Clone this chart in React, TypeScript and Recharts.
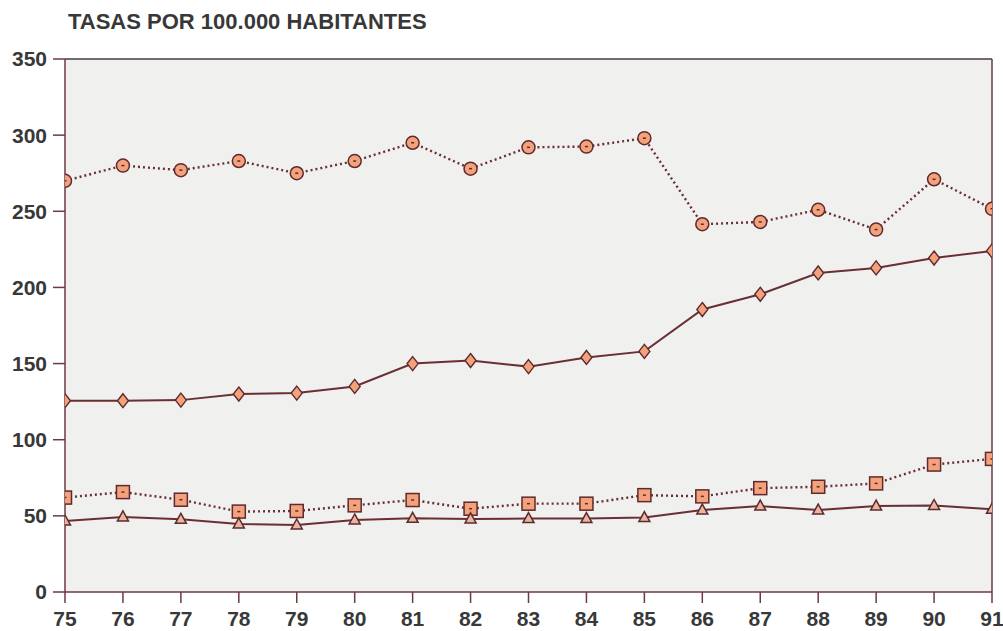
import React from 'react';
import { LineChart, Line, XAxis, YAxis, CartesianGrid, ReferenceLine } from 'recharts';

const years = [75, 76, 77, 78, 79, 80, 81, 82, 83, 84, 85, 86, 87, 88, 89, 90, 91];
const serieCirculo = [270, 280, 277, 283, 275, 283, 295, 278, 292, 292.5, 298, 241.5, 243, 251, 238, 271, 251.6];
const serieRombo = [125.6, 125.6, 126, 130, 130.6, 135, 150, 152, 148, 154, 158, 185.5, 195.5, 209.5, 212.8, 219.3, 224];
const serieCuadrado = [62, 65.6, 60.6, 52.8, 53.2, 56.9, 60.4, 54.7, 58, 58, 63.6, 62.8, 68.2, 69.1, 71.3, 83.7, 87.4];
const serieTriangulo = [46.6, 49.3, 47.7, 44.7, 44, 47.3, 48.4, 48, 48.2, 48.2, 48.9, 53.8, 56.4, 53.8, 56.4, 56.8, 54.3];
const yTicks = [0, 50, 100, 150, 200, 250, 300, 350];
const title = 'TASAS POR 100.000 HABITANTES';

const data = years.map((y, i) => ({
  year: y,
  a: serieCirculo[i],
  b: serieRombo[i],
  c: serieCuadrado[i],
  d: serieTriangulo[i],
}));

const AXIS = '#6e3a40';
const LINE = '#6a2f34';
const FILL = '#f4a27c';
const EDGE = '#5e2a2e';
const TXT = '#383838';

const CircleDot = (p: any) => (
  <g key={p.key ?? `c${p.index}`}>
    <circle cx={p.cx} cy={p.cy} r={6.5} fill={FILL} stroke={EDGE} strokeWidth={1.5} />
    <line x1={p.cx - 1.5} y1={p.cy} x2={p.cx + 1.5} y2={p.cy} stroke={EDGE} strokeWidth={1.5} />
  </g>
);
const SquareDot = (p: any) => (
  <g key={p.key ?? `s${p.index}`}>
    <rect x={p.cx - 6.5} y={p.cy - 6.5} width={13} height={13} fill={FILL} stroke={EDGE} strokeWidth={1.5} />
    <line x1={p.cx - 1.5} y1={p.cy} x2={p.cx + 1.5} y2={p.cy} stroke={EDGE} strokeWidth={1.5} />
  </g>
);
const DiamondDot = (p: any) => (
  <polygon
    key={p.key ?? `d${p.index}`}
    points={`${p.cx},${p.cy - 7} ${p.cx + 5.5},${p.cy} ${p.cx},${p.cy + 7} ${p.cx - 5.5},${p.cy}`}
    fill={FILL}
    stroke={EDGE}
    strokeWidth={1.4}
  />
);
const TriangleDot = (p: any) => (
  <polygon
    key={p.key ?? `t${p.index}`}
    points={`${p.cx},${p.cy - 6} ${p.cx + 5.5},${p.cy + 4} ${p.cx - 5.5},${p.cy + 4}`}
    fill="#e9b6a4"
    stroke={EDGE}
    strokeWidth={1.5}
  />
);

const tickStyle = { fontFamily: 'Liberation Sans, Arial, sans-serif', fontWeight: 700, fontSize: 21, fill: TXT };

export default function App() {
  return (
    <div style={{ position: 'absolute', left: 0, top: 0, width: 1003, height: 631, background: '#ffffff' }}>
      <div
        style={{
          position: 'absolute',
          left: 68,
          top: 9,
          fontFamily: 'Liberation Sans, Arial, sans-serif',
          fontWeight: 700,
          fontSize: 22,
          color: TXT,
          whiteSpace: 'nowrap',
        }}
      >
        {title}
      </div>
      <LineChart width={1003} height={631} data={data} margin={{ top: 59, right: 11, bottom: 0, left: 0 }}>
        <CartesianGrid horizontal={false} vertical={false} fill="#f0f0ee" />
        <XAxis
          dataKey="year"
          type="number"
          domain={[75, 91]}
          ticks={years}
          interval={0}
          height={39}
          stroke={AXIS}
          strokeWidth={1.5}
          tickSize={11}
          tickMargin={8}
          tick={tickStyle}
          allowDataOverflow
        />
        <YAxis
          type="number"
          domain={[0, 350]}
          ticks={yTicks}
          width={65}
          stroke={AXIS}
          strokeWidth={1.5}
          tickSize={12}
          tickMargin={6}
          tick={tickStyle}
        />
        <ReferenceLine y={350} stroke="#4a3a3c" strokeWidth={1.5} />
        <ReferenceLine x={91} stroke={AXIS} strokeWidth={1.5} />
        <Line dataKey="a" name="Serie A" stroke={LINE} strokeWidth={2.4} strokeDasharray="2 3" dot={CircleDot} isAnimationActive={false} />
        <Line dataKey="b" name="Serie B" stroke={LINE} strokeWidth={2} dot={DiamondDot} isAnimationActive={false} />
        <Line dataKey="c" name="Serie C" stroke={LINE} strokeWidth={2.4} strokeDasharray="2 3" dot={SquareDot} isAnimationActive={false} />
        <Line dataKey="d" name="Serie D" stroke={LINE} strokeWidth={2} dot={TriangleDot} isAnimationActive={false} />
      </LineChart>
    </div>
  );
}
